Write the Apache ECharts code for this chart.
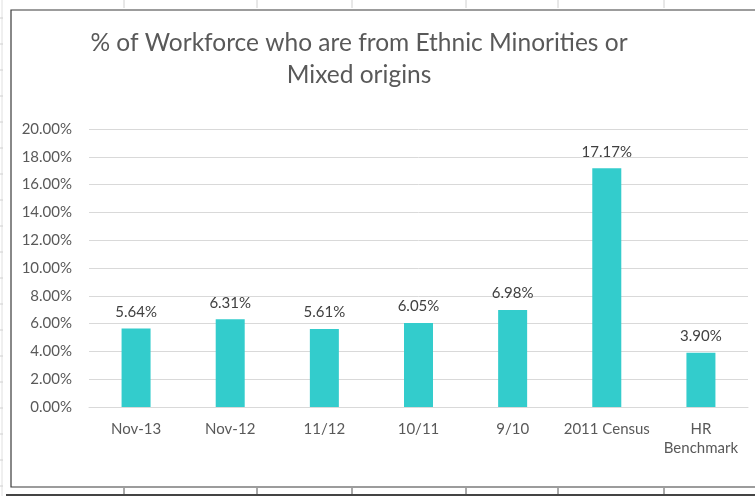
<!DOCTYPE html>
<html>
<head>
<meta charset="utf-8">
<script src="https://cdn.jsdelivr.net/npm/echarts@6/dist/echarts.min.js"></script>
<style>
  html, body { margin: 0; padding: 0; background: #ffffff; }
  #chart { width: 755px; height: 496px; }
</style>
</head>
<body>
<div id="chart"></div>
<script>
// Categories and share of workforce (%) per period
const categories = ['Nov-13', 'Nov-12', '11/12', '10/11', '9/10', '2011 Census', 'HR\nBenchmark'];
const shareValues = [5.64, 6.31, 5.61, 6.05, 6.98, 17.17, 3.90];
const axisMax = 20;
const axisStep = 2;

const chart = echarts.init(document.getElementById('chart'), null, { renderer: 'canvas' });

// Faint sheet cell marks around the chart frame
const sheetMarks = [];
[124, 257, 352, 466, 558, 664].forEach(function (x) {
  sheetMarks.push({ type: 'line', shape: { x1: x, y1: 0, x2: x, y2: 8 }, style: { stroke: '#d0d0d0', lineWidth: 1 }, silent: true });
  sheetMarks.push({ type: 'line', shape: { x1: x, y1: 488, x2: x, y2: 496 }, style: { stroke: '#555', lineWidth: 1 }, silent: true });
});
for (let y = 18; y < 490; y += 26) {
  sheetMarks.push({ type: 'line', shape: { x1: 0, y1: y, x2: 3, y2: y }, style: { stroke: '#d0d0d0', lineWidth: 1 }, silent: true });
}

chart.setOption({
  animation: false,
  backgroundColor: '#ffffff',
  title: {
    text: '% of Workforce who are from Ethnic Minorities or\nMixed origins',
    left: 354,
    top: 22,
    textAlign: 'center',
    textStyle: {
      fontFamily: 'Lato',
      fontSize: 24.5,
      fontWeight: 'normal',
      color: '#595959',
      lineHeight: 32
    }
  },
  grid: { left: 89, right: 7, top: 129, bottom: 89, containLabel: false },
  xAxis: {
    type: 'category',
    data: categories,
    axisTick: { show: false },
    axisLine: { lineStyle: { color: '#d9d9d9', width: 1 } },
    axisLabel: {
      fontFamily: 'Lato',
      fontSize: 15,
      color: '#595959',
      margin: 13,
      lineHeight: 19,
      interval: 0
    }
  },
  yAxis: {
    type: 'value',
    min: 0,
    max: axisMax,
    interval: axisStep,
    axisLine: { show: false },
    axisTick: { show: false },
    splitLine: { lineStyle: { color: '#d9d9d9', width: 1 } },
    axisLabel: {
      fontFamily: 'Lato',
      fontSize: 15,
      color: '#595959',
      margin: 17,
      formatter: function (v) { return v.toFixed(2) + '%'; }
    }
  },
  series: [{
    type: 'bar',
    data: shareValues,
    barWidth: 29,
    itemStyle: { color: '#33CCCC' },
    label: {
      show: true,
      position: 'top',
      distance: 9,
      fontFamily: 'Lato',
      fontSize: 15,
      color: '#404040',
      formatter: function (p) { return p.value.toFixed(2) + '%'; }
    }
  }],
  graphic: [
    // chart frame
    { type: 'rect', shape: { x: 11, y: 10, width: 760, height: 477 }, style: { fill: 'none', stroke: '#3a3a3a', lineWidth: 1.2 }, silent: true, z: 10 },
    // sheet border below the chart
    { type: 'line', shape: { x1: 6, y1: 495, x2: 755, y2: 495 }, style: { stroke: '#444', lineWidth: 2 }, silent: true, z: 10 },
    { type: 'line', shape: { x1: 2, y1: 0, x2: 2, y2: 496 }, style: { stroke: '#e0e0e0', lineWidth: 1 }, silent: true }
  ].concat(sheetMarks)
});
</script>
</body>
</html>
